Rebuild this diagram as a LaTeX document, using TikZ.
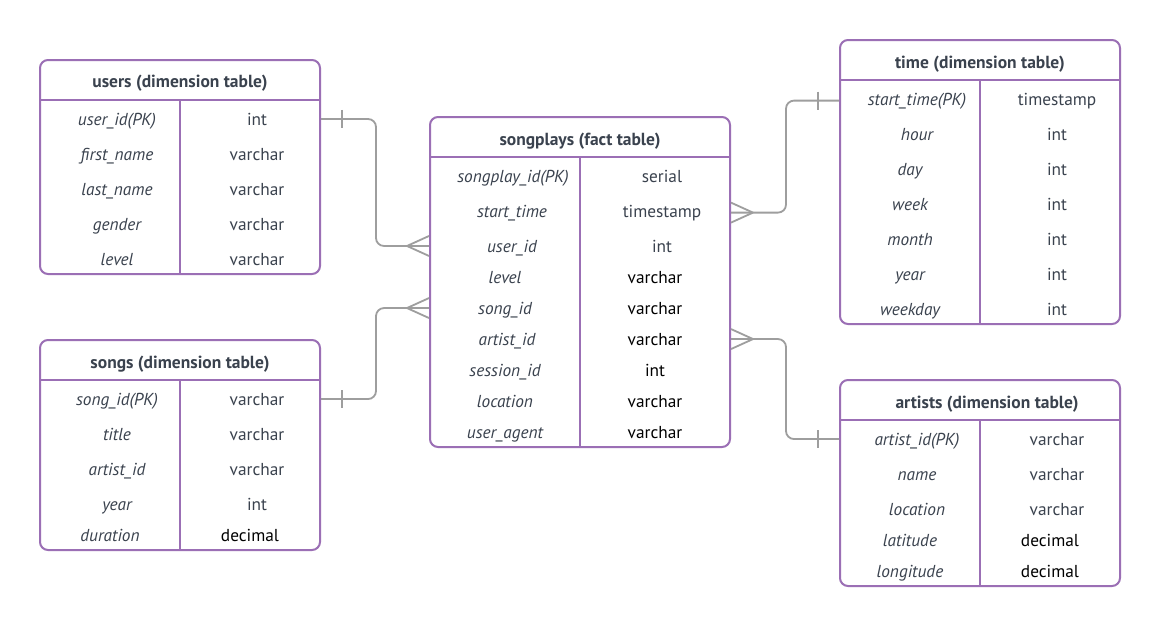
\documentclass[tikz,border=0pt]{standalone}
\usepackage{fontspec}
\setmainfont{PT Sans}
\definecolor{tblpurple}{RGB}{155,111,181}
\definecolor{linkgray}{RGB}{158,158,158}
\definecolor{txtgray}{RGB}{58,66,78}

\begin{document}
\begin{tikzpicture}[x=1pt,y=-1pt,
tbl/.style={draw=tblpurple,line width=2pt,rounded corners=8pt,inner sep=0pt,minimum width=280pt},
sep/.style={draw=tblpurple,line width=2pt},
title/.style={font=\fontsize{17.5}{20}\selectfont\bfseries,text=txtgray,inner sep=0pt,anchor=base},
key/.style={font=\fontsize{17.3}{20}\selectfont\itshape,text=txtgray,inner sep=0pt,anchor=base},
typ/.style={font=\fontsize{17.3}{20}\selectfont,text=txtgray,inner sep=0pt,anchor=base},
typb/.style={typ,text=black},
link/.style={draw=linkgray,line width=1.8pt,rounded corners=8pt}]
\useasboundingbox[fill=white] (0,0) rectangle (1160,627);

% tables
\node[tbl,minimum height=214pt] (users) at (180,167) {};
\node[tbl,minimum height=210pt] (songs) at (180,445) {};
\node[tbl,minimum width=300pt,minimum height=330pt] (sp) at (580,282) {};
\node[tbl,minimum height=284pt] (time) at (980,182) {};
\node[tbl,minimum height=206pt] (artists) at (980,483) {};
\draw[sep] (users.west |- 0,100) -- (users.east |- 0,100) (180,100) -- (users.south);
\draw[sep] (songs.west |- 0,380) -- (songs.east |- 0,380) (180,380) -- (songs.south);
\draw[sep] (sp.west |- 0,157) -- (sp.east |- 0,157) (580,157) -- (sp.south);
\draw[sep] (time.west |- 0,80) -- (time.east |- 0,80) (980,80) -- (time.south);
\draw[sep] (artists.west |- 0,420) -- (artists.east |- 0,420) (980,420) -- (artists.south);

% users
\node[title] (usersh) at (180,87) {users (dimension table)};
\node[key] (u1k) at (117,125) {user\_id(PK)};  \node[typ] (u1t) at (257,125) {int};
\node[key] (u2k) at (117,160) {first\_name};   \node[typ] (u2t) at (257,160) {varchar};
\node[key] (u3k) at (117,195) {last\_name};    \node[typ] (u3t) at (257,195) {varchar};
\node[key] (u4k) at (117,230) {gender};        \node[typ] (u4t) at (257,230) {varchar};
\node[key] (u5k) at (117,265) {level};         \node[typ] (u5t) at (257,265) {varchar};

% songs
\node[title] (songsh) at (180,368) {songs (dimension table)};
\node[key] (g1k) at (117,405) {song\_id(PK)};  \node[typ] (g1t) at (257,405) {varchar};
\node[key] (g2k) at (117,440) {title};         \node[typ] (g2t) at (257,440) {varchar};
\node[key] (g3k) at (117,475) {artist\_id};    \node[typ] (g3t) at (257,475) {varchar};
\node[key] (g4k) at (117,510) {year};          \node[typ] (g4t) at (257,510) {int};
\node[key] (g5k) at (110,541) {duration};      \node[typb] (g5t) at (250,541) {decimal};

% songplays
\node[title] (sph) at (580,145) {songplays (fact table)};
\node[key] (s1k) at (513,182) {songplay\_id(PK)}; \node[typ] (s1t) at (662,182) {serial};
\node[key] (s2k) at (512,217) {start\_time};   \node[typ] (s2t) at (662,217) {timestamp};
\node[key] (s3k) at (512,252) {user\_id};      \node[typ] (s3t) at (662,252) {int};
\node[key] (s4k) at (505,283) {level};         \node[typb] (s4t) at (655,283) {varchar};
\node[key] (s5k) at (505,314) {song\_id};      \node[typb] (s5t) at (655,314) {varchar};
\node[key] (s6k) at (507,345) {artist\_id};    \node[typb] (s6t) at (655,345) {varchar};
\node[key] (s7k) at (505,376) {session\_id};   \node[typb] (s7t) at (655,376) {int};
\node[key] (s8k) at (505,407) {location};      \node[typb] (s8t) at (655,407) {varchar};
\node[key] (s9k) at (505,438) {user\_agent};   \node[typb] (s9t) at (655,438) {varchar};

% time
\node[title] (timeh) at (980,68) {time (dimension table)};
\node[key] (t1k) at (917,105) {start\_time(PK)}; \node[typ] (t1t) at (1057,105) {timestamp};
\node[key] (t2k) at (917,140) {hour};          \node[typ] (t2t) at (1057,140) {int};
\node[key] (t3k) at (910,175) {day};           \node[typ] (t3t) at (1057,175) {int};
\node[key] (t4k) at (910,210) {week};          \node[typ] (t4t) at (1057,210) {int};
\node[key] (t5k) at (910,245) {month};         \node[typ] (t5t) at (1057,245) {int};
\node[key] (t6k) at (910,280) {year};          \node[typ] (t6t) at (1057,280) {int};
\node[key] (t7k) at (910,315) {weekday};       \node[typ] (t7t) at (1057,315) {int};

% artists
\node[title] (artistsh) at (987,408) {artists (dimension table)};
\node[key] (a1k) at (917,445) {artist\_id(PK)}; \node[typ] (a1t) at (1057,445) {varchar};
\node[key] (a2k) at (917,480) {name};          \node[typ] (a2t) at (1057,480) {varchar};
\node[key] (a3k) at (917,515) {location};      \node[typ] (a3t) at (1057,515) {varchar};
\node[key] (a4k) at (910,546) {latitude};      \node[typb] (a4t) at (1050,546) {decimal};
\node[key] (a5k) at (910,577) {longitude};     \node[typb] (a5t) at (1050,577) {decimal};

% relations: one bar, crow's foot
\draw[link] (users.east |- u1t) -- ++(55,0) |- (sp.west |- s3t);
\draw[link] (users.east |- u1t) ++(21,-9) -- ++(0,18);
\draw[link] (sp.west |- s3t) ++(-22,0) -- ++(22,-10) ++(-22,10) -- ++(22,10);
\draw[link] (songs.east |- g1t) -- ++(55,0) |- (sp.west |- s5t);
\draw[link] (songs.east |- g1t) ++(21,-9) -- ++(0,18);
\draw[link] (sp.west |- s5t) ++(-22,0) -- ++(22,-10) ++(-22,10) -- ++(22,10);
\draw[link] (sp.east |- s2t) -- ++(55,0) |- (time.west |- t1t);
\draw[link] (time.west |- t1t) ++(-21,-9) -- ++(0,18);
\draw[link] (sp.east |- s2t) ++(22,0) -- ++(-22,-10) ++(22,10) -- ++(-22,10);
\draw[link] (sp.east |- s6t) -- ++(55,0) |- (artists.west |- a1t);
\draw[link] (artists.west |- a1t) ++(-21,-9) -- ++(0,18);
\draw[link] (sp.east |- s6t) ++(22,0) -- ++(-22,-10) ++(22,10) -- ++(-22,10);
\end{tikzpicture}
\end{document}
